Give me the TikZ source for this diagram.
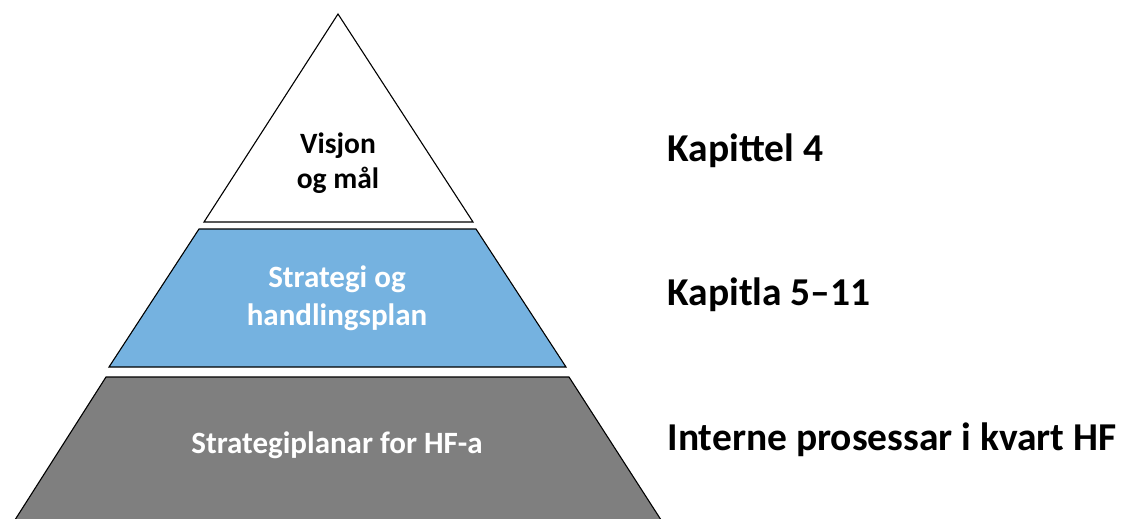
\documentclass[tikz,border=0pt]{standalone}
\usepackage{fontspec}
\setmainfont{Carlito}
\usepackage{tikz}
\definecolor{layerblue}{RGB}{117,178,224}
\definecolor{layergray}{RGB}{127,127,127}
\tikzset{
  layer/.style      = {draw=black,line width=1.1pt,line join=miter},
  innerlabel/.style = {align=center,anchor=base,inner sep=0pt,font=\fontsize{31}{38}\selectfont\bfseries},
  sidelabel/.style  = {anchor=base west,font=\fontsize{39.5}{46}\selectfont\bfseries}
}

\begin{document}
\begin{tikzpicture}[x=1pt,y=-1pt]
  \useasboundingbox (0,0) rectangle (1121,519);
  % three layers of the pyramid, top to bottom
  \draw[layer,fill=white]      (338,14) -- (473,222) -- (204,222) -- cycle;
  \draw[layer,fill=layerblue]  (199,229) -- (476,229) -- (566,367) -- (109,367) -- cycle;
  \draw[layer,fill=layergray]  (106,377) -- (569,377) -- (663,523) -- (13,523) -- cycle;
  % texts inside the layers, placed on the baseline of their last line
  \node[innerlabel,font=\fontsize{29.5}{35}\selectfont\bfseries]
                               (vision)   at (338,188) {Visjon\\og mål};
  \node[innerlabel,white]      (strategy) at (337,325) {Strategi og\\handlingsplan};
  \node[innerlabel,white]      (plans)    at (337,453) {Strategiplanar for HF-a};
  % chapter references on the right
  \node[sidelabel] (chap4)    at (664,161) {Kapittel 4};
  \node[sidelabel] (chap511)  at (664,305) {Kapitla 5–11};
  \node[sidelabel] (internal) at (664,450) {Interne prosessar i kvart HF};
\end{tikzpicture}
\end{document}
